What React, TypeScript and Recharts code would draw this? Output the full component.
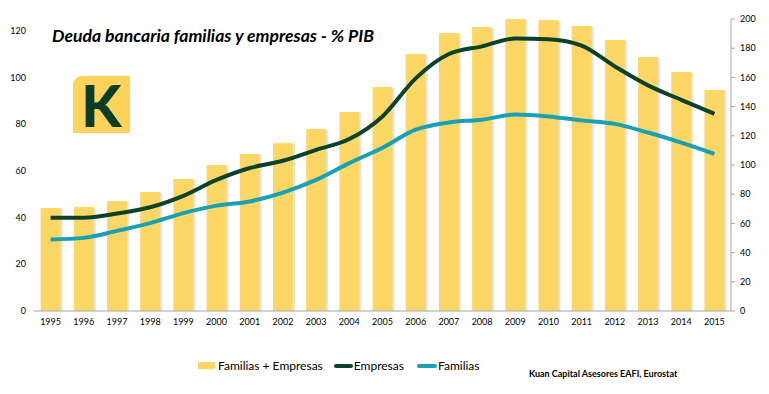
import {
  ComposedChart,
  Bar,
  Line,
  XAxis,
  YAxis,
} from "recharts";

const years = [
  "1995", "1996", "1997", "1998", "1999", "2000", "2001", "2002", "2003", "2004", "2005",
  "2006", "2007", "2008", "2009", "2010", "2011", "2012", "2013", "2014", "2015",
];
// Familias + Empresas (eje derecho)
const totalDebt = [
  70.5, 71.2, 75.3, 81.5, 90.4, 100, 107.5, 115, 124.7, 136.3, 153.4,
  176, 190.4, 194.5, 200, 199.3, 195.2, 185.6, 174, 163.7, 151.4,
];
// Empresas (eje izquierdo)
const empresas = [
  39.9, 39.9, 41.7, 44.4, 49.3, 56.1, 61.2, 64.3, 69, 73.6, 83.3,
  99.6, 110, 113.3, 116.6, 116.3, 113.6, 104.7, 96.6, 90.4, 84.4,
];
// Familias (eje izquierdo)
const familias = [
  30.6, 31.3, 34.3, 37.6, 41.9, 45.1, 46.9, 50.7, 56.1, 63.3, 69.9,
  77.6, 80.7, 81.9, 84.1, 83.3, 81.6, 80.1, 76.4, 72.1, 67.3,
];
const leftTicks = [0, 20, 40, 60, 80, 100, 120];
const rightTicks = [0, 20, 40, 60, 80, 100, 120, 140, 160, 180, 200];

const BAR = "#fdd766";
const DARK = "#0b4229";
const TEAL = "#19a0b5";
const AXIS = "#a6a6a6";
const FONT = "Lato, 'Open Sans', sans-serif";

const data = years.map((y, i) => ({
  year: y,
  total: totalDebt[i],
  empresas: empresas[i],
  familias: familias[i],
}));

// bar with a light drop shadow on the right side
const ShadowBar = (props: any) => {
  const { x, y, width, height, fill } = props;
  if (!height || height <= 0) return null;
  return (
    <g>
      <rect x={x + 2} y={y + 1} width={width} height={height - 1} fill="#e4e4e4" />
      <rect x={x} y={y} width={width} height={height} fill={fill} />
    </g>
  );
};

function App() {
  const tick = { fontSize: 9, fill: "#000", fontFamily: FONT };

  return (
    <div style={{ position: "absolute", left: 0, top: 0, width: 769, height: 394, background: "#fff" }}>
      <ComposedChart
        width={769}
        height={394}
        data={data}
        margin={{ top: 19, right: 0, bottom: 53, left: 0 }}
        barCategoryGap="20%"
      >
        <XAxis
          dataKey="year"
          height={30}
          tick={tick}
          tickLine={false}
          axisLine={{ stroke: AXIS }}
          interval={0}
        />
        <YAxis
          yAxisId="left"
          width={34}
          domain={[0, 125]}
          ticks={leftTicks}
          tick={tick}
          axisLine={false}
          tickLine={false}
        />
        <YAxis
          yAxisId="right"
          orientation="right"
          width={38}
          domain={[0, 200]}
          ticks={rightTicks}
          tick={tick}
          tickSize={4}
          tickMargin={5}
          axisLine={{ stroke: AXIS }}
          tickLine={{ stroke: AXIS }}
        />
        <Bar
          yAxisId="right"
          dataKey="total"
          fill={BAR}
          shape={ShadowBar}
          isAnimationActive={false}
        />
        <Line
          yAxisId="left"
          type="monotone"
          dataKey="empresas"
          stroke={DARK}
          strokeWidth={4}
          dot={false}
          isAnimationActive={false}
        />
        <Line
          yAxisId="left"
          type="monotone"
          dataKey="familias"
          stroke={TEAL}
          strokeWidth={4}
          dot={false}
          isAnimationActive={false}
        />
      </ComposedChart>

      {/* title */}
      <div
        style={{
          position: "absolute",
          left: 52,
          top: 25,
          fontFamily: FONT,
          fontWeight: 700,
          fontStyle: "italic",
          fontSize: 17.6,
          lineHeight: "22px",
          color: "#000",
          whiteSpace: "nowrap",
        }}
      >
        Deuda bancaria familias y empresas - % PIB
      </div>

      {/* logo */}
      <div
        style={{
          position: "absolute",
          left: 73,
          top: 76,
          width: 57,
          height: 57,
          background: "#fdd35a",
          borderRadius: "9px 0 0 0",
          color: "#0a3d24",
          fontFamily: FONT,
          fontWeight: 900,
          fontSize: 58,
          lineHeight: "57px",
          textAlign: "center",
        }}
      >
        K
      </div>

      {/* legend */}
      <div
        style={{
          position: "absolute",
          left: 198,
          top: 358,
          display: "flex",
          alignItems: "center",
          fontFamily: FONT,
          fontSize: 12,
          color: "#000",
          whiteSpace: "nowrap",
        }}
      >
        <span style={{ width: 17, height: 7, background: BAR, display: "inline-block", marginRight: 3 }} />
        <span style={{ marginRight: 11 }}>Familias + Empresas</span>
        <span style={{ width: 19, height: 4, background: DARK, borderRadius: 2, display: "inline-block", marginRight: 1 }} />
        <span style={{ marginRight: 13 }}>Empresas</span>
        <span style={{ width: 20, height: 4, background: TEAL, borderRadius: 2, display: "inline-block", marginRight: 1 }} />
        <span>Familias</span>
      </div>

      {/* source */}
      <div
        style={{
          position: "absolute",
          left: 529,
          top: 368,
          fontFamily: FONT,
          fontWeight: 700,
          fontSize: 9,
          color: "#000",
          whiteSpace: "nowrap",
        }}
      >
        Kuan Capital Asesores EAFI, Eurostat
      </div>
    </div>
  );
}

export default App;
